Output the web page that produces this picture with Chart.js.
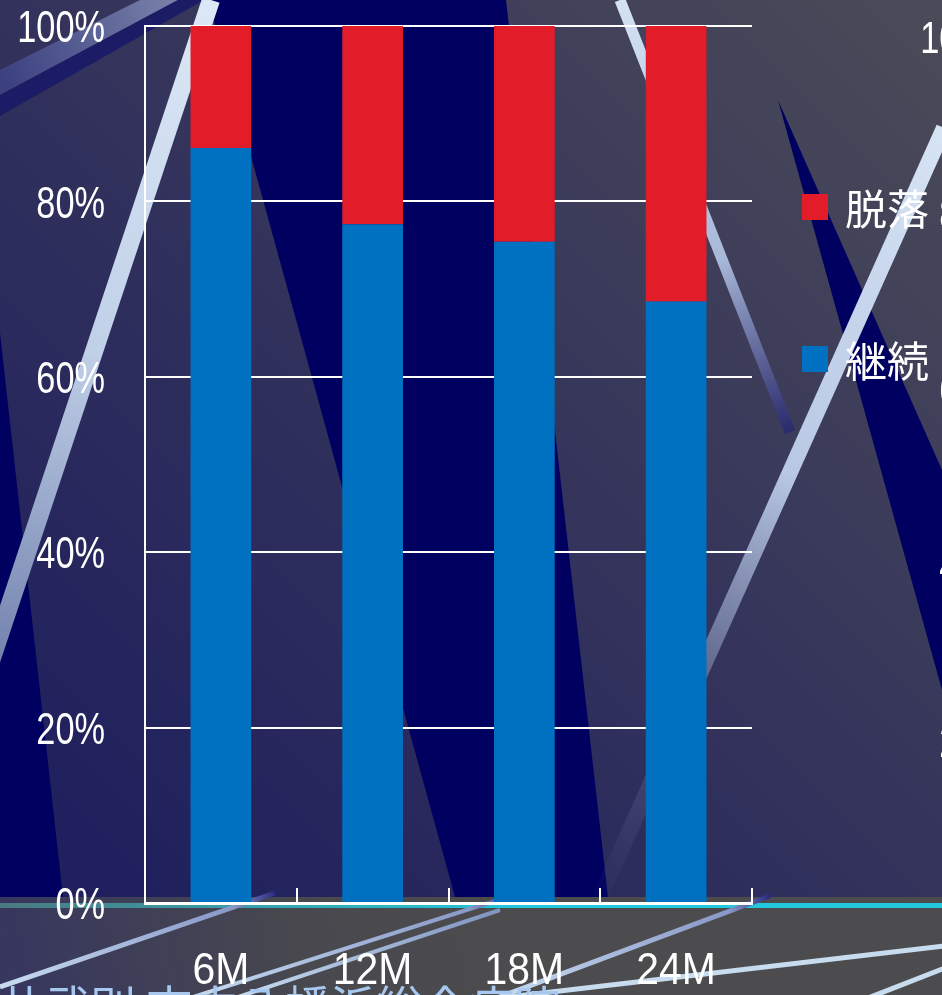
<!DOCTYPE html>
<html lang="ja">
<head>
  <meta charset="UTF-8">
  <title>継続率</title>
  <script src="https://cdn.jsdelivr.net/npm/chart.js"></script>
  <style>
    body {
      margin: 0;
      width: 942px;
      height: 995px;
      overflow: hidden;
      background: #3a3a5a;
      position: relative;
    }
    #retentionChart {
      position: absolute;
      left: 0;
      top: 0;
    }
    .legend {
      position: absolute;
      left: 802px;
      top: 0;
      font-family: "Noto Sans CJK JP", sans-serif;
      font-size: 42px;
      color: #fff;
    }
    .legend-item {
      position: absolute;
      display: flex;
      align-items: center;
      white-space: nowrap;
      left: 0;
    }
    .legend-color {
      width: 26px;
      height: 26px;
      margin-right: 17px;
    }
  </style>
</head>
<body>
  <canvas id="retentionChart" width="942" height="995"></canvas>
  <div class="legend" id="chartLegend"></div>

  <script>
    const categories = ['6M', '12M', '18M', '24M'];
    const continued = [86.1, 77.4, 75.4, 68.6];   // 継続
    const dropped = [13.9, 22.6, 24.6, 31.4];     // 脱落
    const yTicks = [0, 20, 40, 60, 80, 100];

    const BLUE = '#0070c0';
    const RED = '#e31c2a';
    const NAVY = '#000060';
    const labelFont = "44px 'Liberation Sans', Arial, sans-serif";

    function poly(ctx, pts, fill) {
      ctx.beginPath();
      ctx.moveTo(pts[0][0], pts[0][1]);
      for (let i = 1; i < pts.length; i++) ctx.lineTo(pts[i][0], pts[i][1]);
      ctx.closePath();
      ctx.fillStyle = fill;
      ctx.fill();
    }

    function streak(ctx, x1, y1, x2, y2, w, stops) {
      const g = ctx.createLinearGradient(x1, y1, x2, y2);
      stops.forEach(s => g.addColorStop(s[0], s[1]));
      ctx.beginPath();
      ctx.moveTo(x1, y1);
      ctx.lineTo(x2, y2);
      ctx.lineWidth = w;
      ctx.strokeStyle = g;
      ctx.stroke();
    }

    // narrow text: the slide font is condensed, so squeeze horizontally
    function narrowText(ctx, text, x, y, sx, align) {
      ctx.save();
      ctx.translate(x, y);
      ctx.scale(sx, 1);
      ctx.textAlign = align;
      ctx.fillText(text, 0, 0);
      ctx.restore();
    }

    // slide backdrop: shaded panels and light streaks
    const backdrop = {
      id: 'backdrop',
      beforeDraw(chart) {
        const ctx = chart.ctx;
        const W = chart.width, H = chart.height;
        ctx.save();

        const base = ctx.createLinearGradient(900, 0, 80, 820);
        base.addColorStop(0, '#4a4a58');
        base.addColorStop(0.55, '#32325c');
        base.addColorStop(1, '#20205e');
        ctx.fillStyle = base;
        ctx.fillRect(0, 0, W, H);

        // top-left bands
        const band = ctx.createLinearGradient(0, 80, 180, 0);
        band.addColorStop(0, '#3a4080');
        band.addColorStop(1, '#7a82aa');
        poly(ctx, [[140, 0], [178, 0], [0, 95], [0, 70]], band);
        poly(ctx, [[178, 0], [204, 0], [0, 116], [0, 95]], '#1c1c66');

        // navy panels
        poly(ctx, [[208, 0], [506, 0], [608, 897], [455, 897]], NAVY);
        poly(ctx, [[0, 333], [63, 897], [0, 897]], NAVY);
        poly(ctx, [[778, 100], [942, 470], [942, 690]], NAVY);

        // lower band
        const low = ctx.createLinearGradient(0, 995, 500, 897);
        low.addColorStop(0, '#363660');
        low.addColorStop(0.6, '#48484e');
        low.addColorStop(1, '#4c4c4e');
        ctx.fillStyle = low;
        ctx.fillRect(0, 897, W, H - 897);

        // light streaks
        ctx.lineCap = 'butt';
        streak(ctx, 211, 0, -22, 700, 18, [[0, '#dce8f6'], [0.5, '#c0d0e8'], [1, '#6878a6']]);
        streak(ctx, 620, 0, 790, 432, 11, [[0, '#d4e2f2'], [0.6, '#a8b8d8'], [1, 'rgba(40,40,110,0.9)']]);
        streak(ctx, 944, 128, 600, 897, 16, [[0, '#d6e4f4'], [0.45, '#b8c8e4'], [0.75, 'rgba(150,165,205,0.35)'], [1, 'rgba(80,90,140,0.05)']]);

        // accent rule
        const rule = ctx.createLinearGradient(0, 0, 520, 0);
        rule.addColorStop(0, '#4a7a80');
        rule.addColorStop(1, '#22c8dc');
        ctx.fillStyle = rule;
        ctx.fillRect(0, 903, W, 5);

        // streaks across the lower band
        const lc = '#c8dcf0';
        streak(ctx, 0, 987, 275, 893, 5, [[0, lc], [0.85, '#8898c8'], [1, '#2a2a80']]);
        streak(ctx, 190, 998, 520, 893, 4, [[0, lc], [0.85, '#8898c8'], [1, '#2a2a80']]);
        streak(ctx, 235, 998, 500, 910, 4, [[0, lc], [1, '#7f94c0']]);
        streak(ctx, 497, 998, 770, 896, 5, [[0, lc], [0.85, '#8898c8'], [1, '#2a2a80']]);
        streak(ctx, 500, 998, 945, 946, 5, [[0, lc], [1, lc]]);
        streak(ctx, 868, 998, 945, 968, 5, [[0, lc], [1, lc]]);

        // neighbouring slide text, partly off-canvas
        ctx.fillStyle = '#a8c8f0';
        ctx.font = "46px 'Noto Sans CJK JP'";
        ctx.textBaseline = 'top';
        ctx.textAlign = 'left';
        ctx.fillText('共武別 市立八幡浜総合病院', -2, 984);

        ctx.fillStyle = '#ffffff';
        ctx.font = labelFont;
        ctx.textBaseline = 'middle';
        ['100%', '80%', '60%', '40%', '20%'].forEach((t, i) => {
          narrowText(ctx, t, 1008, 41 + i * 176, 0.78, 'right');
        });
        ctx.restore();
      }
    };

    // tick labels from the scales, plus short inward ticks between categories
    const axisText = {
      id: 'axisText',
      afterDraw(chart) {
        const ctx = chart.ctx;
        const x = chart.scales.x;
        const y = chart.scales.y;
        const area = chart.chartArea;
        ctx.save();
        ctx.strokeStyle = '#ffffff';
        ctx.lineWidth = 2;
        for (let i = 0; i < categories.length; i++) {
          const px = Math.round(x.getPixelForValue(i + 0.5));
          ctx.beginPath();
          ctx.moveTo(px, area.bottom);
          ctx.lineTo(px, area.bottom - 15);
          ctx.stroke();
        }

        ctx.fillStyle = '#ffffff';
        ctx.font = labelFont;
        ctx.textBaseline = 'middle';
        y.ticks.forEach(t => {
          narrowText(ctx, t.label, area.left - 40, y.getPixelForValue(t.value) + 4, 0.78, 'right');
        });
        x.ticks.forEach((t, i) => {
          narrowText(ctx, t.label, x.getPixelForValue(i), area.bottom + 69, 0.93, 'center');
        });
        ctx.restore();
      }
    };

    const ctx = document.getElementById('retentionChart').getContext('2d');
    const data = {
      labels: categories,
      datasets: [
        { label: '継続', data: continued, backgroundColor: BLUE },
        { label: '脱落', data: dropped, backgroundColor: RED }
      ]
    };

    const chart = new Chart(ctx, {
      type: 'bar',
      data: data,
      options: {
        responsive: false,
        animation: false,
        datasets: {
          bar: { barPercentage: 0.4, categoryPercentage: 1.0 }
        },
        layout: { padding: { top: 26, right: 190, left: 0, bottom: 0 } },
        plugins: {
          legend: { display: false },
          tooltip: { enabled: false }
        },
        scales: {
          x: {
            stacked: true,
            grid: { display: false, drawTicks: false },
            border: { color: '#ffffff', width: 3 },
            ticks: { display: false },
            afterFit: s => {
              s.height = 92;
              s.paddingLeft = 0;
              s.paddingRight = 0;
            }
          },
          y: {
            stacked: true,
            min: 0,
            max: 100,
            afterBuildTicks: s => { s.ticks = yTicks.map(v => ({ value: v })); },
            grid: { color: '#ffffff', lineWidth: 2, drawTicks: false },
            border: { color: '#ffffff', width: 2 },
            ticks: { display: false, callback: v => v + '%' },
            afterFit: s => {
              s.width = 145;
              s.paddingTop = 0;
              s.paddingBottom = 0;
            }
          }
        }
      },
      plugins: [backdrop, axisText]
    });

    // legend on the right, 脱落 above 継続
    const legendContainer = document.getElementById('chartLegend');
    const legendRows = [
      { label: data.datasets[1].label, color: RED, top: 176 },
      { label: data.datasets[0].label, color: BLUE, top: 328 }
    ];
    legendRows.forEach(row => {
      const item = document.createElement('div');
      item.classList.add('legend-item');
      item.style.top = row.top + 'px';

      const box = document.createElement('div');
      box.classList.add('legend-color');
      box.style.backgroundColor = row.color;

      const text = document.createElement('span');
      text.textContent = row.label;

      item.appendChild(box);
      item.appendChild(text);
      legendContainer.appendChild(item);
    });
  </script>
</body>
</html>
